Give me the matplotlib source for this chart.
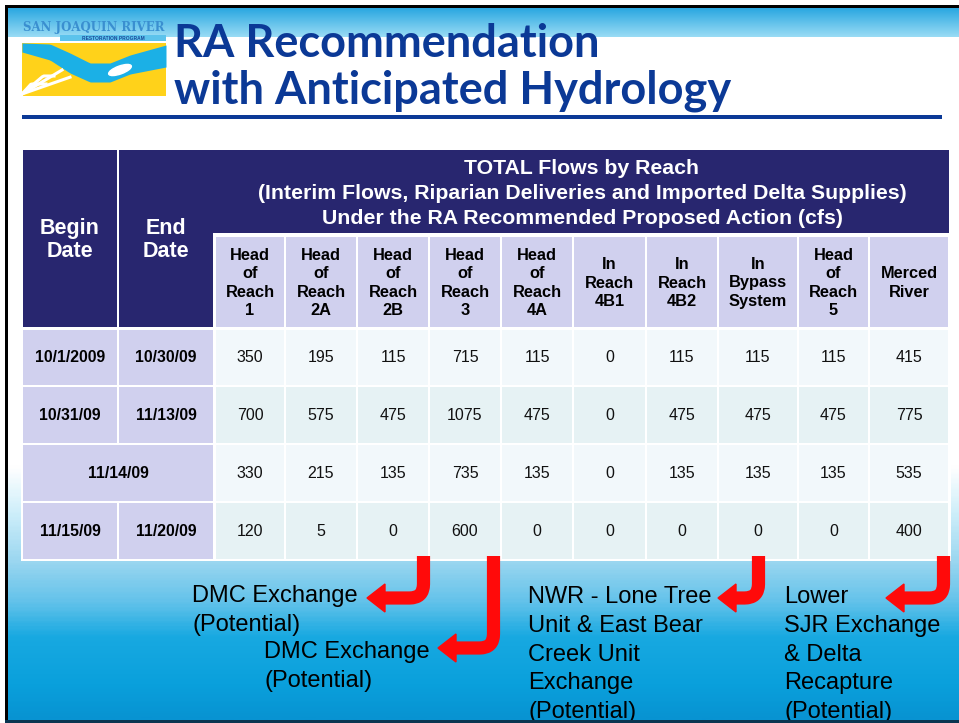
import numpy as np
import matplotlib
matplotlib.use("Agg")
import matplotlib.pyplot as plt
from matplotlib.patches import Rectangle, Polygon, Ellipse
from matplotlib.path import Path
from matplotlib.patches import PathPatch
from matplotlib.colors import LinearSegmentedColormap

# table content
title_lines = ["RA Recommendation", "with Anticipated Hydrology"]
header_lines = [
    "TOTAL Flows by Reach",
    "(Interim Flows, Riparian Deliveries and Imported Delta Supplies)",
    "Under the RA Recommended Proposed Action (cfs)",
]
column_labels = [
    "Head\nof\nReach\n1", "Head\nof\nReach\n2A", "Head\nof\nReach\n2B",
    "Head\nof\nReach\n3", "Head\nof\nReach\n4A", "In\nReach\n4B1",
    "In\nReach\n4B2", "In\nBypass\nSystem", "Head\nof\nReach\n5",
    "Merced\nRiver",
]
begin_dates = ["10/1/2009", "10/31/09", "11/14/09", "11/15/09"]
end_dates = ["10/30/09", "11/13/09", None, "11/20/09"]  # None = merged cell
flows = [
    [350, 195, 115, 715, 115, 0, 115, 115, 115, 415],
    [700, 575, 475, 1075, 475, 0, 475, 475, 475, 775],
    [330, 215, 135, 735, 135, 0, 135, 135, 135, 535],
    [120, 5, 0, 600, 0, 0, 0, 0, 0, 400],
]
notes = [
    ["DMC Exchange", "(Potential)"],
    ["DMC Exchange", "(Potential)"],
    ["NWR - Lone Tree", "Unit & East Bear", "Creek Unit", "Exchange", "(Potential)"],
    ["Lower", "SJR Exchange", "& Delta", "Recapture", "(Potential)"],
]

# layout
W, H = 959, 723
col_edges = [215, 285, 357, 429, 501, 573, 646, 718, 798, 869, 949]
row_edges = [(330, 385), (387, 443), (445, 501), (503, 559)]
NAVY = "#28266f"
LAV = "#d0d0ee"
ROW_BG = ["#f2f8fb", "#e6f2f4"]
FONT = "Liberation Sans"

fig = plt.figure(figsize=(W / 100, H / 100), dpi=100)
ax = fig.add_axes([0, 0, 1, 1])
ax.set_xlim(0, W)
ax.set_ylim(H, 0)
ax.axis("off")


def box(x, y, w, h, c, z=2):
    ax.add_patch(Rectangle((x, y), w, h, facecolor=c, edgecolor="none", lw=0, zorder=z))


# slide background
bg = LinearSegmentedColormap.from_list(
    "bg",
    [(0, "white"), (0.63, "white"), (0.70, "#cdeefa"), (0.77, "#9ad6f0"),
     (0.83, "#62c2ea"), (0.88, "#18a9e1"), (0.95, "#0aa0dc"), (1, "#0893d2")],
)
grad = np.linspace(0, 1, 400).reshape(-1, 1)
ax.imshow(grad, extent=[8, W, 720, 37], aspect="auto", cmap=bg, zorder=0)
top_band = LinearSegmentedColormap.from_list("top", ["#25a5e0", "#9adcf5"])
ax.imshow(grad, extent=[8, W, 37, 7], aspect="auto", cmap=top_band, zorder=0)

# border
box(5, 5, 3, 718, "black", 10)
box(5, 5, W, 2.5, "black", 10)
box(5, 719.5, W, 4, "#0a3550", 10)

# logo
box(22, 43, 144, 53, "#ffd21a", 1)
lx = np.linspace(22, 166, 60)
upper = np.interp(lx, [22, 50, 70, 90, 110, 130, 166], [43, 44, 53, 63, 63, 55, 45])
lower = np.interp(lx, [22, 50, 70, 90, 110, 130, 166], [52, 60, 73, 82, 82, 74, 67])
ax.fill_between(lx, upper, lower, color="#1bb0e6", zorder=2, lw=0)
for k in range(4):
    sx = np.linspace(22, 70 - k * 8, 20)
    sy = 96 - (sx - 22) * (0.35 + 0.25 * k) - 2
    ax.plot(sx, np.clip(sy, 60 + k * 8, 96), color="white", lw=2.2, zorder=2)
ax.add_patch(Ellipse((120, 70), 24, 8, angle=-20, color="white", zorder=3))
ax.text(94, 27, "SAN JOAQUIN RIVER", ha="center", va="center", fontsize=8.5,
        family="DejaVu Serif", weight="bold", color="#3a8fd0", zorder=3)
box(60, 35, 106, 6, "#5cc3ec", 2)
ax.text(113, 38, "RESTORATION PROGRAM", ha="center", va="center", fontsize=3.5,
        family=FONT, weight="bold", color="#1a4a9a", zorder=3)

# title
for i, line in enumerate(title_lines):
    ax.text(174, 57 + i * 47, line, ha="left", va="baseline", fontsize=32.5,
            family="Lato", weight="bold", color="#0b3996", zorder=3)
box(22, 115, 920, 3.5, "#0b3996", 3)

# table frame + header cells
box(21, 148, 930, 413, "white", 1)
box(23, 150, 94, 177, NAVY)
box(119, 150, 830, 83, NAVY)
box(119, 233, 94, 94, NAVY)
ax.text(70, 240, "Begin\nDate", ha="center", va="center", fontsize=15.5,
        family=FONT, weight="bold", color="white", linespacing=1.15, zorder=4)
ax.text(166, 240, "End\nDate", ha="center", va="center", fontsize=15.5,
        family=FONT, weight="bold", color="white", linespacing=1.15, zorder=4)
for i, line in enumerate(header_lines):
    ax.text(582, 168 + i * 25.5, line, ha="center", va="center", fontsize=15.3,
            family=FONT, weight="bold", color="white", zorder=4)
for j, label in enumerate(column_labels):
    x0, x1 = col_edges[j] + 1, col_edges[j + 1] - 1
    box(x0, 237, x1 - x0, 90, LAV)
    ax.text((x0 + x1) / 2, 283, label, ha="center", va="center", fontsize=11.8,
            family=FONT, weight="bold", color="black", linespacing=1.3, zorder=4)

# data rows
for i, (y0, y1) in enumerate(row_edges):
    yc = (y0 + y1) / 2
    if end_dates[i] is None:
        box(23, y0, 190, y1 - y0, LAV)
        ax.text(118, yc, begin_dates[i], ha="center", va="center", fontsize=11.3,
                family=FONT, weight="bold", zorder=4)
    else:
        box(23, y0, 94, y1 - y0, LAV)
        box(119, y0, 94, y1 - y0, LAV)
        ax.text(70, yc, begin_dates[i], ha="center", va="center", fontsize=11.3,
                family=FONT, weight="bold", zorder=4)
        ax.text(166, yc, end_dates[i], ha="center", va="center", fontsize=11.3,
                family=FONT, weight="bold", zorder=4)
    for j, val in enumerate(flows[i]):
        x0, x1 = col_edges[j] + 1, col_edges[j + 1] - 1
        box(x0, y0, x1 - x0, y1 - y0, ROW_BG[i % 2])
        ax.text((x0 + x1) / 2, yc, str(val), ha="center", va="center",
                fontsize=11.5, family=FONT, color="#111111", zorder=4)


# red bent arrows
def bent_arrow(x, y_turn, tip_x):
    r = 14
    verts = [(x, 556), (x, y_turn - r), (x, y_turn), (x - r, y_turn),
             (tip_x + 15, y_turn)]
    codes = [Path.MOVETO, Path.LINETO, Path.CURVE3, Path.CURVE3, Path.LINETO]
    ax.add_patch(PathPatch(Path(verts, codes), fill=False, edgecolor="#ff0a0a",
                           lw=9.5, capstyle="butt", joinstyle="round", zorder=6))
    ax.add_patch(Polygon([(tip_x, y_turn), (tip_x + 18, y_turn - 14),
                          (tip_x + 18, y_turn + 14)], closed=True,
                         color="#ff0a0a", zorder=6))


bent_arrow(423.5, 598, 367)
bent_arrow(493.5, 648, 438)
bent_arrow(758.5, 598, 718)
bent_arrow(943.5, 598, 886)

# notes
note_pos = [(192, 602), (264, 658), (528, 603), (784, 603)]
for (nx, ny), lines in zip(note_pos, notes):
    for k, line in enumerate(lines):
        t = ax.text(nx, ny + k * 28.8, line, ha="left", va="baseline",
                    fontsize=17, family=FONT, color="black", zorder=7)
        t.set_clip_path(Rectangle((0, 0), W, 720, transform=ax.transData))

fig.savefig("out.png", dpi=100)
